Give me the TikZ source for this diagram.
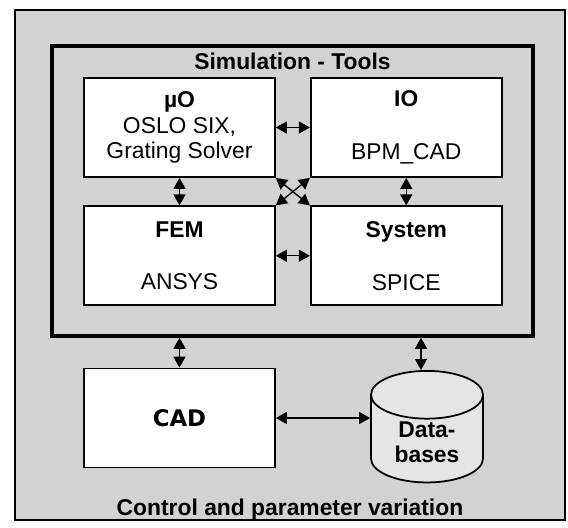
\documentclass[tikz,border=0pt]{standalone}
\usepackage{fontspec}
\setmainfont{Liberation Sans}
\newfontfamily\cadfont{DejaVu Sans}
\usetikzlibrary{positioning, shapes.geometric, arrows.meta, calc}

\begin{document}
\begin{tikzpicture}[
    node distance=0.55cm and 0.68cm,
    % Define styles
    base/.style={rectangle, draw, align=center, line width=1pt, fill=white, font=\fontsize{13}{14.5}\selectfont},
    tool/.style={base, minimum width=3.82cm, minimum height=1.98cm},
    frame/.style={draw, fill=gray!35, line width=1pt},
    simframe/.style={frame, line width=2pt, minimum width=9.62cm, minimum height=5.8cm},
    store/.style={cylinder, shape border rotate=90, draw, fill=gray!20, line width=1pt, aspect=0.7, minimum width=2.24cm, minimum height=1.9cm, inner sep=1pt, align=center, font=\fontsize{13}{14.5}\selectfont\bfseries},
    title/.style={font=\fontsize{13}{14.5}\selectfont\bfseries},
    arrow/.style={{Triangle[length=0.22cm,width=0.24cm]}-{Triangle[length=0.22cm,width=0.24cm]}, line width=0.8pt}
]

    % fixes the page size
    \useasboundingbox (0,0) rectangle (11.36,-10.56);

    % --- OUTER FRAME ---
    \node (ctrl) [frame, minimum width=11cm, minimum height=10.2cm] at (5.8,-5.3) {};
    \node (ctrl_label) [title] at ($(ctrl.south)+(0,0.22)$) {Control and parameter variation};

    % --- SIMULATION TOOLS ---
    \node (sim) [simframe] at (5.85,-3.82) {};
    \node (sim_label) [title] at ($(sim.north)+(0,-0.34)$) {Simulation - Tools};

    \node (muo) [tool] at (3.59,-2.55) {\textbf{µO}\\OSLO SIX,\\Grating Solver};
    \node (io) [tool, right=of muo] {\textbf{IO}\\[0.55cm]BPM\_CAD};
    \node (fem) [tool, below=of muo] {\textbf{FEM}\\[0.55cm]ANSYS};
    \node (system) [tool, below=of io] {\textbf{System}\\[0.55cm]SPICE};

    % --- CAD AND DATABASES ---
    \node (cad) [tool, font=\cadfont\fontsize{13}{14.5}\selectfont\bfseries, below=1.23cm of fem] {CAD};
    \node (db) [store, anchor=north] at (8.54,-7.40) {Data-\\bases};

    % --- DRAW CONNECTIONS ---
    \draw [arrow] (muo) -- (io);
    \draw [arrow] (fem) -- (system);
    \draw [arrow] (muo) -- (fem);
    \draw [arrow] (io) -- (system);

    % crossing arrows in the middle
    \draw [arrow] (muo.south east) -- (system.north west);
    \draw [arrow] (io.south west) -- (fem.north east);

    % simulation tools to CAD and databases
    \draw [arrow] (cad.north |- sim.south) -- (cad.north);
    \draw [arrow] ([xshift=-0.12cm]db.north |- sim.south) -- ([xshift=-0.12cm]db.north);
    \draw [arrow] (cad.east) -- (cad.east -| db.west);

\end{tikzpicture}
\end{document}
